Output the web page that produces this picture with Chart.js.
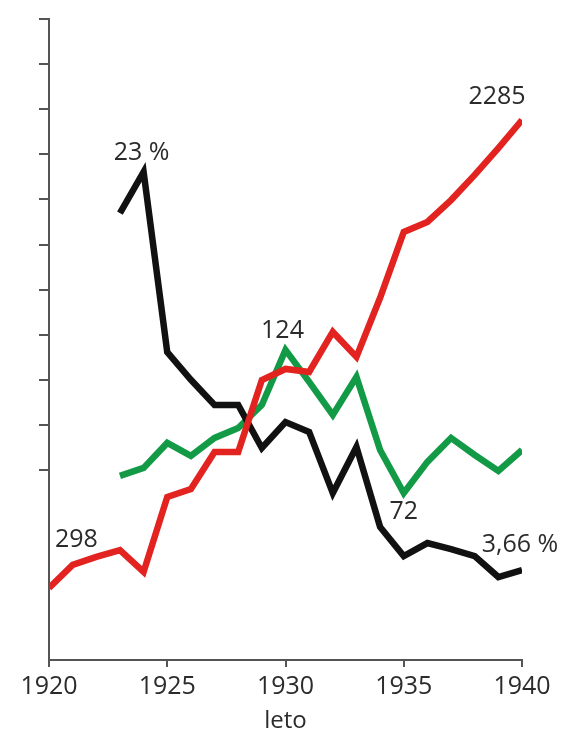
<!DOCTYPE html>
<html>
<head>
<meta charset="utf-8">
<script src="https://cdn.jsdelivr.net/npm/chart.js@4"></script>
<style>
  html, body { margin: 0; padding: 0; background: #fff; }
  canvas { display: block; }
</style>
</head>
<body>
<canvas id="graf" width="566" height="736"></canvas>
<script>
// leta
const leta = [1920, 1921, 1922, 1923, 1924, 1925, 1926, 1927, 1928, 1929, 1930,
              1931, 1932, 1933, 1934, 1935, 1936, 1937, 1938, 1939, 1940];

// rdeca krivulja (298 -> 2285)
const rdeca = [298, 396, 430, 459, 366, 684, 718, 875, 875, 1181, 1228,
               1215, 1385, 1279, 1530, 1810, 1852, 1945, 2052, 2166, 2285];

// crna krivulja v % (23 % -> 3,66 %)
const crna = [null, null, null, 21.0, 23, 14.25, 12.9, 11.68, 11.68, 9.59, 10.85,
              10.37, 7.40, 9.64, 5.75, 4.34, 4.97, 4.68, 4.34, 3.32, 3.66];

// zelena krivulja (124, 72)
const zelena = [null, null, null, 78.2, 81.1, 90.2, 85.5, 92.0, 95.6, 104.0, 124,
                112.4, 100.4, 114.2, 87.6, 72, 83.3, 92.0, 85.8, 80.0, 87.6];

const letaOznake = [1920, 1925, 1930, 1935, 1940];

// napisi ob krivuljah: [besedilo, serija, indeks, dx, dy, poravnava]
const napisi = [
    ['298', 0, 0, 6, -48, 'left'],
    ['2285', 0, 20, -25, -23, 'center'],
    ['23 %', 1, 4, -2, -19, 'center'],
    ['124', 2, 10, -3, -19, 'center'],
    ['72', 2, 15, 0, 19, 'center'],
    ['3,66 %', 1, 20, -2, -25, 'center']
];

const pisava = "'Open Sans', 'Noto Sans', sans-serif";

function tocke(vrednosti) {
    return leta.map((l, i) => ({ x: l, y: vrednosti[i] }));
}

const napisiPlugin = {
    id: 'napisi',
    afterDatasetsDraw(chart) {
        const ctx = chart.ctx;
        ctx.save();
        ctx.font = '25px ' + pisava;
        ctx.fillStyle = '#2b2b2b';
        ctx.textBaseline = 'middle';
        napisi.forEach(n => {
            const el = chart.getDatasetMeta(n[1]).data[n[2]];
            ctx.textAlign = n[5];
            ctx.fillText(n[0], el.x + n[3], el.y + n[4]);
        });
        ctx.restore();
    }
};

const ctx = document.getElementById('graf').getContext('2d');

new Chart(ctx, {
    type: 'line',
    data: {
        datasets: [{
            data: tocke(rdeca),
            borderColor: '#e2231f',
            yAxisID: 'yRdeca'
        }, {
            data: tocke(crna),
            borderColor: '#111111',
            yAxisID: 'yCrna'
        }, {
            data: tocke(zelena),
            borderColor: '#129a47',
            yAxisID: 'yZelena'
        }]
    },
    options: {
        responsive: false,
        animation: false,
        layout: { padding: { left: 0, right: 44, top: 19, bottom: 0 } },
        elements: {
            line: { borderWidth: 6.5, tension: 0, borderJoinStyle: 'miter', fill: false },
            point: { radius: 0 }
        },
        plugins: {
            legend: { display: false },
            tooltip: { enabled: false }
        },
        scales: {
            x: {
                type: 'linear',
                min: 1920,
                max: 1940,
                afterBuildTicks: axis => { axis.ticks = letaOznake.map(v => ({ value: v })); },
                afterFit: axis => { axis.height = 76; },
                ticks: {
                    font: { family: pisava, size: 25 },
                    color: '#2b2b2b',
                    padding: 5,
                    callback: v => String(v)
                },
                grid: { drawOnChartArea: false, tickLength: 7, color: '#555', lineWidth: 2 },
                border: { color: '#555', width: 2 },
                title: {
                    display: true,
                    text: 'leto',
                    font: { family: pisava, size: 24 },
                    color: '#2b2b2b',
                    padding: { top: 0, bottom: 0 }
                }
            },
            y: {
                position: 'left',
                min: -4.21,
                max: 10,
                afterBuildTicks: axis => {
                    axis.ticks = [0, 1, 2, 3, 4, 5, 6, 7, 8, 9, 10].map(v => ({ value: v }));
                },
                afterFit: axis => { axis.width = 49; },
                ticks: { display: false },
                grid: { drawOnChartArea: false, tickLength: 10, color: '#555', lineWidth: 2 },
                border: { color: '#555', width: 2 }
            },
            yRdeca: { display: false, min: -8, max: 2714 },
            yCrna: { display: false, min: -0.71, max: 30.43 },
            yZelena: { display: false, min: 11.28, max: 244.3 }
        }
    },
    plugins: [napisiPlugin]
});
</script>
</body>
</html>
